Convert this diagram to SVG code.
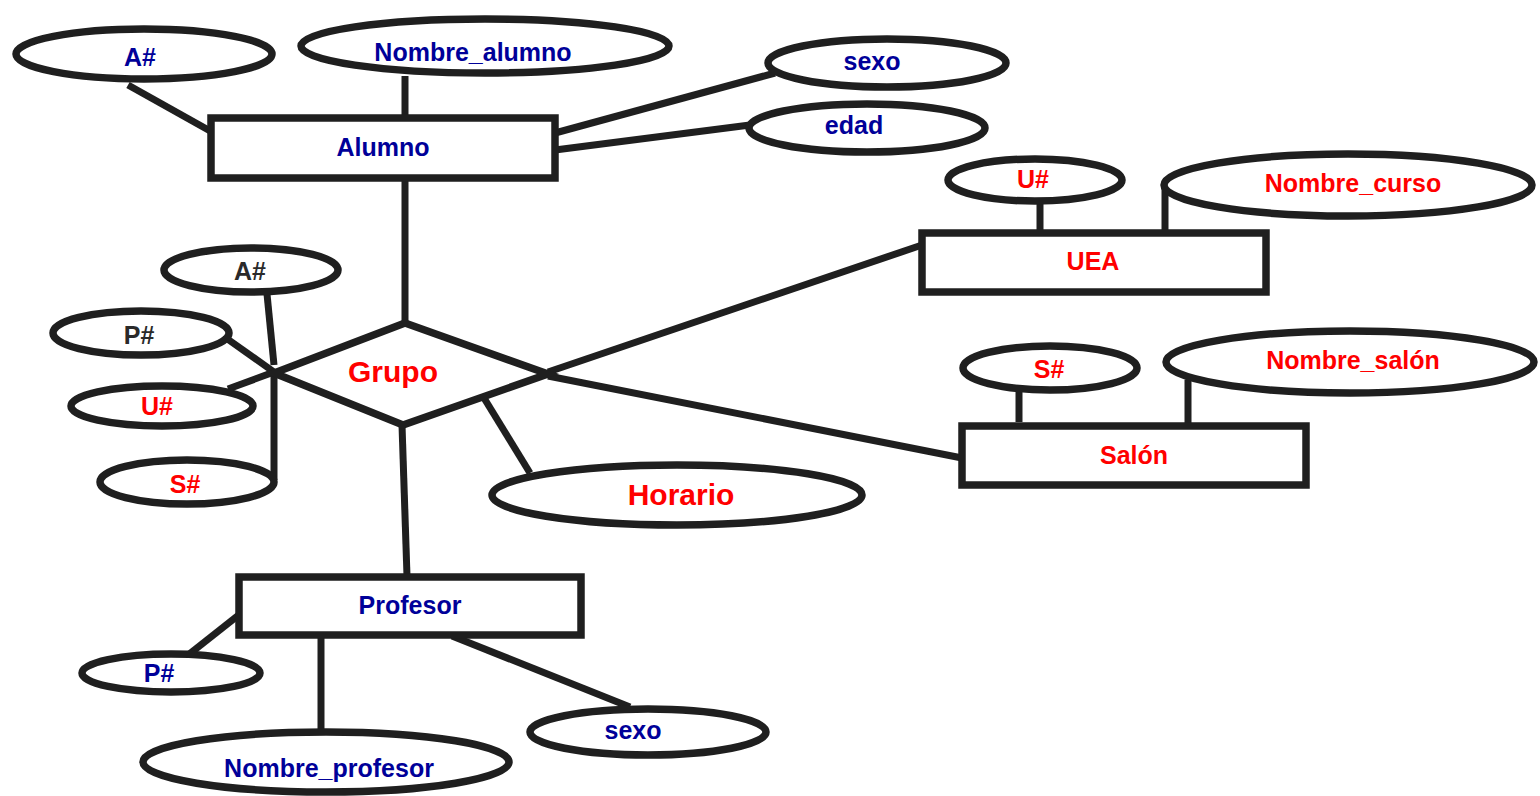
<svg xmlns="http://www.w3.org/2000/svg" width="1540" height="796" viewBox="0 0 1540 796">
<style>
.s{fill:#fff;stroke:#1f1f1f;stroke-width:7.5}
.c line{stroke:#1f1f1f;stroke-width:7;stroke-linecap:butt}
text{font-family:"Liberation Sans","Open Sans",sans-serif;font-weight:bold;font-size:25px;text-anchor:middle;dominant-baseline:central}
.b{fill:#000099}
.r{fill:#ff0000}
.k{fill:#2a2a2a}
</style>
<rect width="1540" height="796" fill="#fff"/>
<g id="connectors" class="c">
<line x1="128" y1="85" x2="212" y2="132"/>
<line x1="405" y1="76" x2="405" y2="117"/>
<line x1="555" y1="133" x2="775" y2="73"/>
<line x1="555" y1="150" x2="750" y2="125"/>
<line x1="405" y1="178" x2="405" y2="323"/>
<line x1="1040" y1="204" x2="1040" y2="232"/>
<line x1="1165" y1="185" x2="1165" y2="232"/>
<line x1="548" y1="372" x2="922" y2="245"/>
<line x1="548" y1="376" x2="962" y2="458"/>
<line x1="1019" y1="391" x2="1019" y2="422"/>
<line x1="1188" y1="380" x2="1188" y2="425"/>
<line x1="267" y1="294" x2="274" y2="365"/>
<line x1="226" y1="338" x2="274" y2="372"/>
<line x1="228" y1="389" x2="274" y2="372"/>
<line x1="274" y1="372" x2="274" y2="480"/>
<line x1="484" y1="398" x2="530" y2="473"/>
<line x1="402" y1="425" x2="407" y2="576"/>
<line x1="240" y1="614" x2="183" y2="659"/>
<line x1="321" y1="636" x2="321" y2="730"/>
<line x1="452" y1="636" x2="630" y2="707"/>
</g>
<g id="attr-alumno-a"><ellipse class="s" cx="144" cy="54" rx="128" ry="25"/><text class="b" x="140" y="57">A#</text></g>
<g id="attr-nombre-alumno"><ellipse class="s" cx="485" cy="46" rx="184" ry="27"/><text class="b" x="473" y="52">Nombre_alumno</text></g>
<g id="attr-alumno-sexo"><ellipse class="s" cx="887" cy="63" rx="119" ry="24"/><text class="b" x="872" y="61">sexo</text></g>
<g id="attr-edad"><ellipse class="s" cx="867" cy="128" rx="118" ry="24"/><text class="b" x="854" y="125">edad</text></g>
<g id="alumno"><rect class="s" x="211" y="118" width="344" height="60"/><text class="b" x="383" y="147">Alumno</text></g>
<g id="attr-uea-u"><ellipse class="s" cx="1035" cy="180" rx="87" ry="21"/><text class="r" x="1033" y="179">U#</text></g>
<g id="attr-nombre-curso"><ellipse class="s" cx="1348" cy="185" rx="184" ry="31"/><text class="r" x="1353" y="183">Nombre_curso</text></g>
<g id="uea"><rect class="s" x="922" y="233" width="344" height="59"/><text class="r" x="1093" y="261">UEA</text></g>
<g id="attr-grupo-a"><ellipse class="s" cx="251" cy="270" rx="87" ry="22"/><text class="k" x="250" y="271">A#</text></g>
<g id="attr-grupo-p"><ellipse class="s" cx="141" cy="333" rx="88" ry="22"/><text class="k" x="139" y="335">P#</text></g>
<g id="attr-grupo-u"><ellipse class="s" cx="162" cy="406" rx="91" ry="20"/><text class="r" x="157" y="406">U#</text></g>
<g id="attr-grupo-s"><ellipse class="s" cx="187" cy="482" rx="87" ry="22"/><text class="r" x="185" y="484">S#</text></g>
<g id="grupo"><polygon class="s" points="405,323 548,374 403,425 274,373"/><text class="r" x="393" y="371" style="font-size:30px">Grupo</text></g>
<g id="attr-horario"><ellipse class="s" cx="677" cy="495" rx="185" ry="30"/><text class="r" x="681" y="494" style="font-size:30px">Horario</text></g>
<g id="attr-salon-s"><ellipse class="s" cx="1050" cy="368" rx="87" ry="22"/><text class="r" x="1049" y="369">S#</text></g>
<g id="attr-nombre-salon"><ellipse class="s" cx="1350" cy="362" rx="184" ry="31"/><text class="r" x="1353" y="360">Nombre_salón</text></g>
<g id="salon"><rect class="s" x="962" y="426" width="344" height="59"/><text class="r" x="1134" y="455">Salón</text></g>
<g id="profesor"><rect class="s" x="239" y="577" width="342" height="58"/><text class="b" x="410" y="605">Profesor</text></g>
<g id="attr-profesor-p"><ellipse class="s" cx="171" cy="673" rx="89" ry="19"/><text class="b" x="159" y="673">P#</text></g>
<g id="attr-nombre-profesor"><ellipse class="s" cx="326" cy="762" rx="183" ry="30"/><text class="b" x="329" y="768">Nombre_profesor</text></g>
<g id="attr-profesor-sexo"><ellipse class="s" cx="648" cy="732" rx="118" ry="23"/><text class="b" x="633" y="730">sexo</text></g>
</svg>
